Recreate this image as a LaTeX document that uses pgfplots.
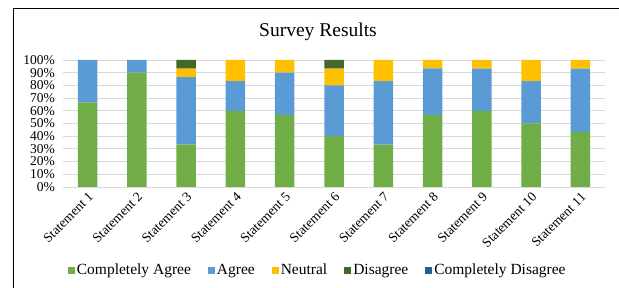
\documentclass[border=0pt]{standalone}
\usepackage{fontspec}
\setmainfont{Liberation Serif}
\usepackage{pgfplots}
\pgfplotsset{compat=1.18}
\definecolor{cagree}{HTML}{70AD47}
\definecolor{agree}{HTML}{5B9BD5}
\definecolor{neutral}{HTML}{FFC000}
\definecolor{disagree}{HTML}{43682B}
\definecolor{cdisagree}{HTML}{255E91}
\definecolor{gridc}{HTML}{D9D9D9}
\begin{document}
\begin{tikzpicture}
\useasboundingbox (0,0) rectangle (619pt,288pt);
\draw[line width=1.3pt] (13.5pt,0) -- (13.5pt,279.5pt) -- (619pt,279.5pt);
\begin{axis}[
  at={(63pt,101pt)}, anchor=south west,
  scale only axis, width=542pt, height=127pt,
  ybar stacked, bar width=19.5pt,
  xmin=0.5, xmax=11.5, ymin=0, ymax=100,
  xtick={1,...,11},
  xticklabels={Statement 1,Statement 2,Statement 3,Statement 4,Statement 5,Statement 6,Statement 7,Statement 8,Statement 9,Statement 10,Statement 11},
  xticklabel style={rotate=45, anchor=north east, font=\fontsize{13.5}{15}\selectfont, inner sep=1pt},
  xticklabel shift=3pt,
  ytick={0,10,...,100},
  yticklabel={\pgfmathprintnumber{\tick}\%},
  yticklabel style={font=\fontsize{13.5}{15}\selectfont, inner sep=1pt, xshift=-7pt},
  /pgf/number format/assume math mode=true,
  ymajorgrids, major grid style={gridc, line width=0.9pt},
  axis line style={draw=none}, tick style={draw=none},
  legend style={at={(0.47,-0.654)}, anchor=center, draw=none, fill=none,
    legend columns=-1, font=\fontsize{15.5}{17}\selectfont,
    /tikz/every even column/.append style={column sep=15pt}},
  legend image code/.code={\path[#1,draw=none] (0pt,-3.5pt) rectangle (7pt,3.5pt);},
]
\addplot[fill=cagree, draw=none] coordinates {(1,66.7) (2,90) (3,33.3) (4,60) (5,56.7) (6,40) (7,33.3) (8,56.7) (9,60) (10,50) (11,43.3)};
\addplot[fill=agree, draw=none] coordinates {(1,33.3) (2,10) (3,53.3) (4,23.3) (5,33.3) (6,40) (7,50) (8,36.7) (9,33.3) (10,33.3) (11,50)};
\addplot[fill=neutral, draw=none] coordinates {(1,0) (2,0) (3,6.7) (4,16.7) (5,10) (6,13.3) (7,16.7) (8,6.6) (9,6.7) (10,16.7) (11,6.7)};
\addplot[fill=disagree, draw=none] coordinates {(1,0) (2,0) (3,6.7) (4,0) (5,0) (6,6.7) (7,0) (8,0) (9,0) (10,0) (11,0)};
\addplot[fill=cdisagree, draw=none] coordinates {(1,0) (2,0) (3,0) (4,0) (5,0) (6,0) (7,0) (8,0) (9,0) (10,0) (11,0)};
\legend{Completely Agree, Agree, Neutral, Disagree, Completely Disagree}
\end{axis}
\node[font=\fontsize{19.5}{22}\selectfont] at (318pt,256pt) {Survey Results};
\end{tikzpicture}
\end{document}
